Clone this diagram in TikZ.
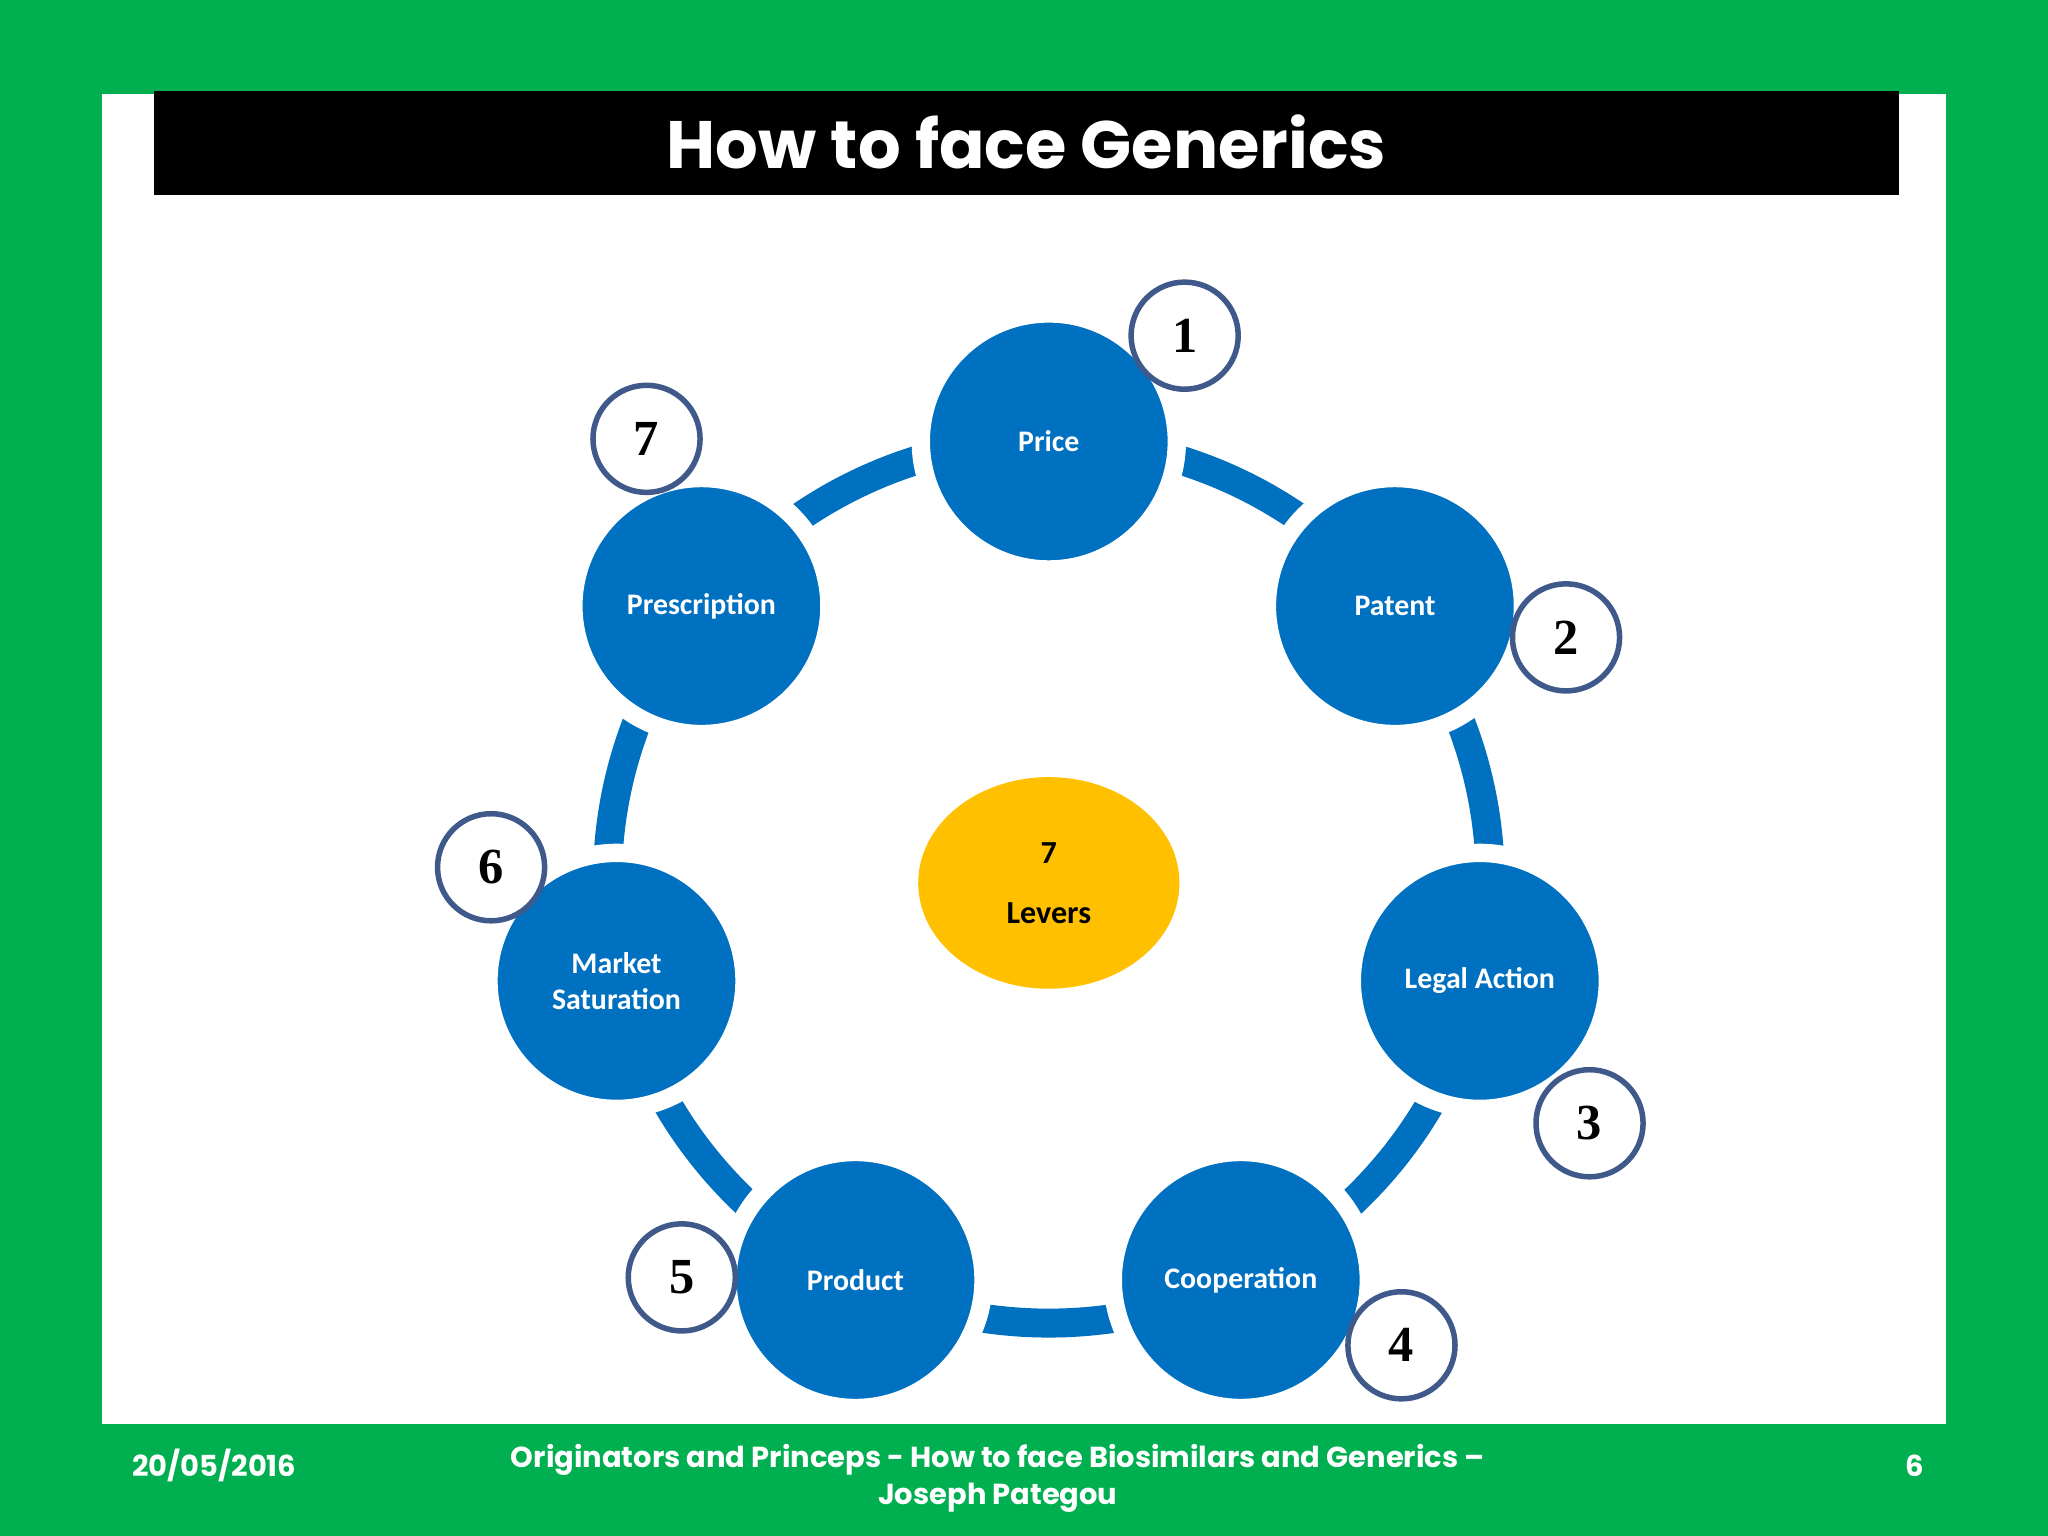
\documentclass[tikz,border=0pt]{standalone}
\usepackage{fontspec}
\usetikzlibrary{shapes.geometric}
\setmainfont{Carlito}
\newfontfamily\titlefont{Poppins}
\newfontfamily\numfont{Liberation Serif}
\definecolor{bggreen}{HTML}{00B050}
\definecolor{lvblue}{HTML}{0070C0}
\definecolor{lvgold}{HTML}{FFC000}
\definecolor{numring}{HTML}{3F5A8A}
\begin{document}
\begin{tikzpicture}[x=0.01cm,y=-0.01cm,
  lever/.style={circle,fill=lvblue,draw=white,line width=4pt,minimum size=196*0.01cm,inner sep=0pt,text=white,font=\bfseries\fontsize{6.5}{7.8}\selectfont,align=center},
  num/.style={circle,fill=white,draw=numring,line width=1.2pt,minimum size=82*0.01cm,inner sep=0pt,font=\numfont\bfseries\fontsize{11}{12}\selectfont},
  foot/.style={text=white,font=\titlefont\bfseries\fontsize{6.3}{8.2}\selectfont,align=center}]
\useasboundingbox (0,0) rectangle (1568,1176);
\fill[bggreen] (0,0) rectangle (1568,1176);
\fill[white] (78,72) rectangle (1490,1090);
\fill[black] (118,70) rectangle (1454,149);
\node[text=white,font=\titlefont\bfseries\fontsize{14.6}{18}\selectfont] (title) at (786,109) {How to face Generics};
\draw[lvblue,line width=6.3pt] (803,675) circle (338*0.01cm);
\node[lever] (p1) at (803,338) {Price};
\node[lever] (p2) at (1068,464) {Patent};
\node[lever] (p3) at (1133,751) {Legal Action};
\node[lever] (p4) at (950,980) {Cooperation};
\node[lever] (p5) at (655,980) {Product};
\node[lever] (p6) at (472,751) {Market\\Saturation};
\node[lever] (p7) at (537,464) {Prescription};
\node[ellipse,fill=lvgold,minimum width=200*0.01cm,minimum height=162*0.01cm,inner sep=0pt,font=\bfseries\fontsize{7}{13}\selectfont,align=center] (c) at (803,676) {7\\Levers};
\node[num] (n1) at (907,257) {1};
\node[num] (n2) at (1199,488) {2};
\node[num] (n3) at (1217,860) {3};
\node[num] (n4) at (1073,1030) {4};
\node[num] (n5) at (522,978) {5};
\node[num] (n6) at (376,664) {6};
\node[num] (n7) at (495,336) {7};
\node[foot] (d) at (164,1122) {20/05/2016};
\node[foot] (f) at (764,1132) {Originators and Princeps - How to face Biosimilars and Generics –\\Joseph Pategou};
\node[foot] (pg) at (1466,1122) {6};
\end{tikzpicture}
\end{document}
